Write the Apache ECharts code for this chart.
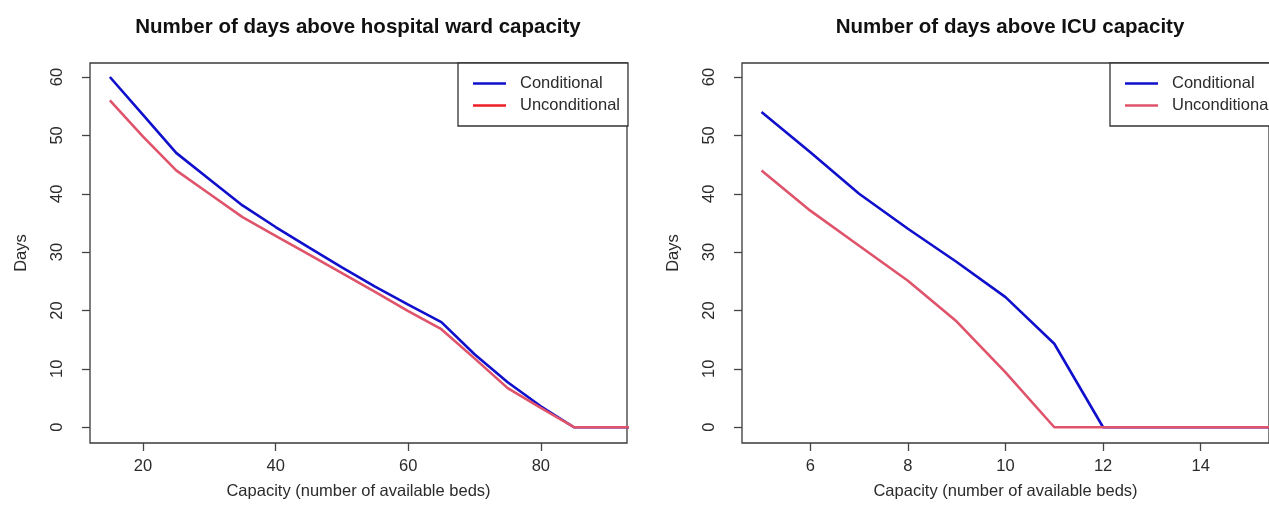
<!DOCTYPE html>
<html>
<head>
<meta charset="utf-8">
<script src="https://cdn.jsdelivr.net/npm/echarts@6/dist/echarts.min.js"></script>
<style>
    html, body { margin: 0; padding: 0; background: #fff; }
    #chart { width: 1269px; height: 524px; }
</style>
</head>
<body>
<div id="chart"></div>
<script>
    // hospital ward panel
    var wardBeds = [15, 20, 25, 30, 35, 40, 45, 50, 55, 60, 65, 70, 75, 80, 85, 90, 95];
    var wardConditional = [60, 53.5, 47, 42.5, 38, 34.3, 30.8, 27.4, 24.1, 21, 18, 12.5, 7.7, 3.6, 0, 0, 0];
    var wardUnconditional = [56, 49.8, 44, 40, 36, 32.8, 29.6, 26.4, 23.2, 19.9, 16.8, 11.8, 6.7, 3.3, 0, 0, 0];
    var wardTicks = [20, 40, 60, 80];

    // ICU panel
    var icuBeds = [5, 6, 7, 8, 9, 10, 11, 12, 13, 14, 15, 16];
    var icuConditional = [54, 47.1, 40, 34, 28.3, 22.3, 14.3, 0, 0, 0, 0, 0];
    var icuUnconditional = [44, 37.1, 31.1, 25.1, 18.1, 9.4, 0, 0, 0, 0, 0, 0];
    var icuTicks = [6, 8, 10, 12, 14];

    var dayTicks = [0, 10, 20, 30, 40, 50, 60];

    var blue = '#0f0fcc';
    var pink = '#df536b';
    var textColor = '#2b2b2b';
    var fontFamily = 'Liberation Sans, Arial, sans-serif';
    var lineIcon = 'path://M0,0 L33,0 L33,2.6 L0,2.6 Z';

    function pairs(xs, ys) {
        return xs.map(function (x, i) { return [x, ys[i]]; });
    }

    function xAxisFor(gridIndex, min, max, ticks) {
        return {
            type: 'value',
            gridIndex: gridIndex,
            min: min,
            max: max,
            name: 'Capacity (number of available beds)',
            nameLocation: 'middle',
            nameGap: 40,
            nameTextStyle: { color: textColor, fontSize: 16.5, fontFamily: fontFamily },
            axisLine: { show: false, onZero: false },
            splitLine: { show: false },
            axisTick: { show: true, length: 8, customValues: ticks, lineStyle: { color: '#444', width: 1.3 } },
            axisLabel: { customValues: ticks, margin: 15, color: textColor, fontSize: 16.5, fontFamily: fontFamily }
        };
    }

    function yAxisFor(gridIndex) {
        return {
            type: 'value',
            gridIndex: gridIndex,
            min: -2.7,
            max: 62.4,
            name: 'Days',
            nameLocation: 'middle',
            nameGap: 60,
            nameTextStyle: { color: textColor, fontSize: 16.5, fontFamily: fontFamily },
            axisLine: { show: false, onZero: false },
            splitLine: { show: false },
            axisTick: { show: true, length: 8, customValues: dayTicks, lineStyle: { color: '#444', width: 1.3 } },
            axisLabel: { customValues: dayTicks, rotate: 90, margin: 24, color: textColor, fontSize: 16.5, fontFamily: fontFamily }
        };
    }

    function legendFor(left, unconditionalColor) {
        return {
            orient: 'vertical',
            left: left,
            top: 63,
            padding: [12, 8, 12, 15],
            itemWidth: 33,
            itemHeight: 12,
            itemGap: 5,
            borderColor: '#333',
            borderWidth: 1.3,
            backgroundColor: '#fff',
            selectedMode: false,
            textStyle: { color: textColor, fontSize: 16.5, fontFamily: fontFamily, padding: [0, 0, 0, 9] },
            data: [
                { name: 'Conditional', icon: lineIcon, itemStyle: { color: blue } },
                { name: 'Unconditional', icon: lineIcon, itemStyle: { color: unconditionalColor } }
            ]
        };
    }

    function lineSeries(name, color, xIndex, data) {
        return {
            name: name,
            type: 'line',
            xAxisIndex: xIndex,
            yAxisIndex: xIndex,
            data: data,
            symbol: 'none',
            clip: true,
            lineStyle: { color: color, width: 2.6 },
            itemStyle: { color: color },
            animation: false
        };
    }

    var chart = echarts.init(document.getElementById('chart'));
    chart.setOption({
        backgroundColor: '#fff',
        animation: false,
        title: [
            {
                text: 'Number of days above hospital ward capacity',
                left: 353,
                top: 12,
                textAlign: 'center',
                textStyle: { color: '#111', fontSize: 20.5, fontWeight: 'bold', fontFamily: fontFamily }
            },
            {
                text: 'Number of days above ICU capacity',
                left: 1005,
                top: 12,
                textAlign: 'center',
                textStyle: { color: '#111', fontSize: 20.5, fontWeight: 'bold', fontFamily: fontFamily }
            }
        ],
        legend: [legendFor(458, '#ee1c24'), legendFor(1110, pink)],
        grid: [
            { left: 90, top: 63, width: 537, height: 380, show: true, borderColor: '#3a3a3a', borderWidth: 1.3 },
            { left: 742, top: 63, width: 537, height: 380, show: true, borderColor: '#3a3a3a', borderWidth: 1.3 }
        ],
        xAxis: [
            xAxisFor(0, 12, 93, wardTicks),
            xAxisFor(1, 4.6, 15.4, icuTicks)
        ],
        yAxis: [yAxisFor(0), yAxisFor(1)],
        series: [
            lineSeries('Conditional', blue, 0, pairs(wardBeds, wardConditional)),
            lineSeries('Unconditional', pink, 0, pairs(wardBeds, wardUnconditional)),
            lineSeries('Conditional', blue, 1, pairs(icuBeds, icuConditional)),
            lineSeries('Unconditional', pink, 1, pairs(icuBeds, icuUnconditional))
        ]
    });
</script>
</body>
</html>
